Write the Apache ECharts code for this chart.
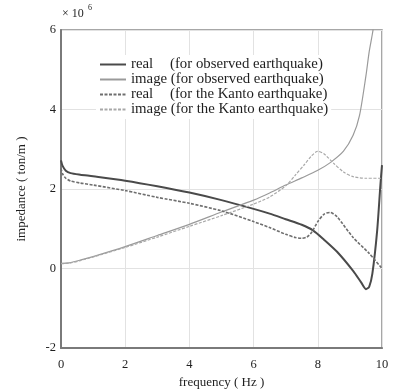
<!DOCTYPE html>
<html>
<head>
<meta charset="utf-8">
<script src="https://cdn.jsdelivr.net/npm/echarts@6/dist/echarts.min.js"></script>
<style>
  html, body { margin: 0; padding: 0; background: #fff; }
  #chart { width: 401px; height: 389px; }
</style>
</head>
<body>
<div id="chart"></div>
<script>
// Frequency (Hz) / impedance (×10^6 ton/m) pairs for each curve
const realObserved = [
  [0, 2.72], [0.05, 2.58], [0.15, 2.46], [0.3, 2.4], [0.6, 2.36], [1, 2.32], [2, 2.21],
  [3, 2.07], [4, 1.91], [5, 1.72], [6, 1.5], [6.5, 1.38], [7, 1.24], [7.5, 1.1],
  [7.85, 0.96], [8.2, 0.72], [8.6, 0.42], [9.1, -0.06], [9.35, -0.35], [9.5, -0.52],
  [9.6, -0.46], [9.7, -0.13], [9.85, 0.96], [9.95, 2.1], [10, 2.6]
];
const imageObserved = [
  [0, 0.13], [0.3, 0.15], [0.6, 0.21], [1, 0.3], [2, 0.55], [3, 0.83], [4, 1.11],
  [5, 1.42], [6, 1.72], [6.5, 1.9], [7, 2.1], [7.5, 2.28], [8, 2.47], [8.4, 2.67],
  [8.8, 2.95], [9.1, 3.35], [9.3, 3.85], [9.5, 4.85], [9.6, 5.45], [9.72, 6.0], [9.8, 6.6]
];
const realKanto = [
  [0, 2.52], [0.05, 2.38], [0.15, 2.27], [0.3, 2.2], [0.6, 2.15], [1, 2.1], [2, 1.96],
  [3, 1.79], [4, 1.64], [5, 1.45], [6, 1.18], [6.5, 1.03], [7, 0.86], [7.3, 0.78],
  [7.5, 0.76], [7.66, 0.79], [7.8, 0.9], [8, 1.18], [8.2, 1.37], [8.38, 1.41],
  [8.6, 1.3], [9.1, 0.78], [9.6, 0.38], [10, 0.0]
];
const imageKanto = [
  [0, 0.12], [0.3, 0.14], [0.6, 0.2], [1, 0.29], [2, 0.53], [3, 0.79], [4, 1.06],
  [5, 1.33], [6, 1.62], [6.5, 1.8], [7, 2.08], [7.3, 2.35], [7.6, 2.63], [7.8, 2.83],
  [8, 2.95], [8.2, 2.88], [8.5, 2.64], [8.8, 2.43], [9.1, 2.31], [9.5, 2.27], [10, 2.27]
];
const seriesNames = [
  'real (for observed earthquake)',
  'image (for observed earthquake)',
  'real (for the Kanto earthquake)',
  'image (for the Kanto earthquake)'
];
const xTicks = [0, 2, 4, 6, 8, 10];
const yTicks = [-2, 0, 2, 4, 6];

const serif = 'Liberation Serif';
const ink = '#1e1e1e';
const chart = echarts.init(document.getElementById('chart'), null, { renderer: 'canvas' });

function lineSeries(name, data, color, width, type) {
  return {
    name: name,
    type: 'line',
    data: data,
    smooth: 0.25,
    showSymbol: false,
    symbol: 'none',
    clip: true,
    lineStyle: { color: color, width: width, type: type },
    itemStyle: { color: color },
    emphasis: { disabled: true }
  };
}

chart.setOption({
  animation: false,
  backgroundColor: '#fff',
  textStyle: { fontFamily: serif },
  grid: {
    left: 61, right: 19, top: 30, bottom: 41,
    outerBoundsMode: 'none',
    show: true, borderColor: '#8a8a8a', borderWidth: 1.5
  },
  graphic: [
    {
      type: 'text', left: 62, top: 8,
      style: { text: '× 10', fontFamily: serif, fontSize: 12, fill: ink }
    },
    {
      type: 'text', left: 88, top: 4,
      style: { text: '6', fontFamily: serif, fontSize: 8, fill: ink }
    }
  ],
  legend: {
    data: seriesNames,
    orient: 'vertical',
    left: 96,
    top: 55,
    itemWidth: 26,
    itemHeight: 10,
    itemGap: 0,
    backgroundColor: '#fff',
    padding: [2, 3, 2, 3],
    itemStyle: { color: 'transparent', borderColor: 'transparent', borderWidth: 0 },
    textStyle: {
      fontFamily: serif, fontSize: 14.8, color: ink, lineHeight: 15,
      rich: {
        a: { fontFamily: serif, fontSize: 14.8, color: ink, width: 39, lineHeight: 15 },
        b: { fontFamily: serif, fontSize: 14.8, color: ink, lineHeight: 15 }
      }
    },
    formatter: function (name) {
      const i = name.indexOf(' (');
      const head = name.slice(0, i);
      const tail = name.slice(i + 1);
      // the short word gets a padded column, the long one keeps a single space
      return head === 'real'
        ? '{a|' + head + '}{b|' + tail + '}'
        : '{b|' + head + ' ' + tail + '}';
    }
  },
  xAxis: {
    type: 'value',
    min: xTicks[0],
    max: xTicks[xTicks.length - 1],
    interval: 2,
    name: 'frequency ( Hz )',
    nameLocation: 'middle',
    nameGap: 26,
    nameTextStyle: { fontFamily: serif, fontSize: 13, color: ink },
    axisLine: { show: true, onZero: false, lineStyle: { color: '#7a7a7a', width: 2 } },
    axisTick: { show: false },
    axisLabel: { fontFamily: serif, fontSize: 12.5, color: ink, margin: 10 },
    splitLine: { show: true, lineStyle: { color: '#e2e2e2', width: 1 } }
  },
  yAxis: {
    type: 'value',
    min: yTicks[0],
    max: yTicks[yTicks.length - 1],
    interval: 2,
    name: 'impedance ( ton/m )',
    nameLocation: 'middle',
    nameGap: 33,
    nameTextStyle: { fontFamily: serif, fontSize: 13, color: ink },
    axisLine: { show: true, onZero: false, lineStyle: { color: '#7a7a7a', width: 2 } },
    axisTick: { show: false },
    axisLabel: { fontFamily: serif, fontSize: 12.5, color: ink, margin: 5 },
    splitLine: { show: true, lineStyle: { color: '#e2e2e2', width: 1 } }
  },
  series: [
    lineSeries(seriesNames[0], realObserved, '#4a4a4a', 2, 'solid'),
    lineSeries(seriesNames[1], imageObserved, '#9a9a9a', 1.2, 'solid'),
    lineSeries(seriesNames[2], realKanto, '#6e6e6e', 1.6, [3, 1.5]),
    lineSeries(seriesNames[3], imageKanto, '#a8a8a8', 1.2, [3, 1.5])
  ]
});
</script>
</body>
</html>
